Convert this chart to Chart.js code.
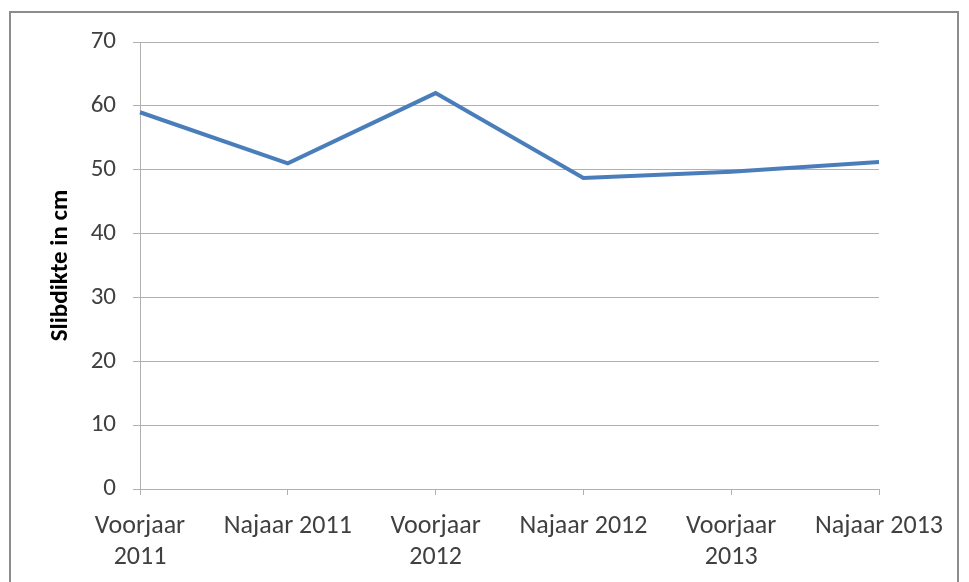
<!DOCTYPE html>
<html lang="nl">
<head>
  <meta charset="UTF-8">
  <title>Slibdikte</title>
  <script src="https://cdn.jsdelivr.net/npm/chart.js"></script>
  <style>
    body {
      margin: 0;
      padding: 0;
      background: #fff;
    }

    #wrap {
      position: relative;
      width: 969px;
      height: 582px;
      overflow: hidden;
    }

    #frame {
      position: absolute;
      left: 9px;
      top: 11px;
      width: 950px;
      height: 600px;
      border: 2px solid #8c8c8c;
      box-sizing: border-box;
    }

    #chart {
      position: absolute;
      left: 0;
      top: 0;
    }
  </style>
</head>
<body>
  <div id="wrap">
    <div id="frame"></div>
    <canvas id="chart" width="969" height="582"></canvas>
  </div>

  <script>
    const periods = [
      ['Voorjaar', '2011'],
      'Najaar 2011',
      ['Voorjaar', '2012'],
      'Najaar 2012',
      ['Voorjaar', '2013'],
      'Najaar 2013'
    ];
    const slibdikte = [59.0, 51.0, 62.0, 48.7, 49.7, 51.2];
    const yTicks = [0, 10, 20, 30, 40, 50, 60, 70];

    const fontFamily = 'Carlito, Calibri, Lato, sans-serif';
    const gridColor = '#b0b0b0';
    const textColor = '#404040';

    const ctx = document.getElementById('chart').getContext('2d');

    new Chart(ctx, {
      type: 'line',
      data: {
        labels: periods,
        datasets: [{
          label: 'Slibdikte',
          data: slibdikte,
          borderColor: '#4a7ebb',
          borderWidth: 4,
          pointRadius: 0,
          tension: 0,
          fill: false
        }]
      },
      options: {
        responsive: false,
        animation: false,
        layout: {
          padding: { left: 0, top: 42, right: 90, bottom: 0 }
        },
        plugins: {
          legend: { display: false },
          tooltip: { enabled: false }
        },
        scales: {
          x: {
            offset: false,
            afterFit: s => { s.height = 93; },
            grid: {
              drawOnChartArea: false,
              drawTicks: true,
              tickLength: 6,
              color: gridColor
            },
            border: { color: gridColor, width: 1 },
            ticks: {
              maxRotation: 0,
              autoSkip: false,
              padding: 16,
              color: textColor,
              font: { family: fontFamily, size: 26, lineHeight: 1.2 }
            }
          },
          y: {
            min: 0,
            max: 70,
            afterFit: s => { s.width = 140; },
            afterBuildTicks: s => { s.ticks = yTicks.map(v => ({ value: v })); },
            grid: {
              color: gridColor,
              tickLength: 7,
              lineWidth: 1
            },
            border: { color: gridColor, width: 1 },
            ticks: {
              padding: 17,
              color: textColor,
              font: { family: fontFamily, size: 25 }
            },
            title: {
              display: true,
              text: 'Slibdikte in cm',
              color: '#000',
              padding: { top: 46, bottom: 0 },
              font: { family: fontFamily, size: 25, weight: 'bold' }
            }
          }
        }
      }
    });
  </script>
</body>
</html>
